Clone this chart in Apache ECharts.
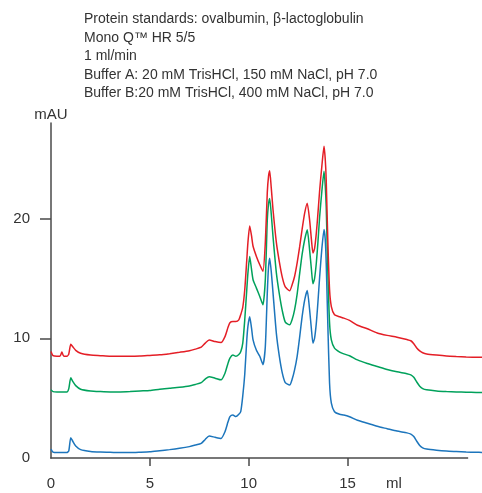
<!DOCTYPE html>
<html lang="en">
<head>
    <meta charset="UTF-8">
    <title>Mono Q HR 5/5</title>
    <script type="text/javascript" src="https://cdn.jsdelivr.net/npm/echarts@6/dist/echarts.min.js"></script>
    <style>
        body { margin: 0; background: #fff; }
    </style>
</head>
<body>
<div id="chart" style="width: 482px;height: 493px"></div>
<script type="text/javascript">
    // elution volume (ml)
    var volume = [0, 0.1, 0.3, 0.45, 0.55, 0.65, 0.8, 0.9, 1.0, 1.1, 1.25, 1.5, 2, 2.5, 3, 3.5, 4, 4.5, 5, 5.5,
        6, 6.5, 7, 7.3, 7.6, 7.8, 8.0, 8.3, 8.6, 8.8, 8.95, 9.05, 9.2, 9.35, 9.5, 9.6, 9.7, 9.8, 9.9, 9.96,
        10.05, 10.14, 10.22, 10.39, 10.56, 10.72, 10.84, 10.94, 11.0, 11.06, 11.14, 11.23, 11.4, 11.55, 11.7, 11.85,
        12.07, 12.2, 12.32, 12.45, 12.58, 12.7, 12.83, 12.96, 13.08, 13.17, 13.25, 13.33, 13.42, 13.5, 13.59, 13.7,
        13.81, 13.87, 13.92, 14.0, 14.09, 14.18, 14.34, 14.6, 14.81, 15.1, 15.5, 16.0, 16.5, 17.0, 17.5, 18.0,
        18.2, 18.35, 18.5, 18.65, 18.8, 19.0, 19.5, 20.0, 20.5, 21.0, 21.5, 21.8];

    var blue = [0.75, 0.5, 0.45, 0.45, 0.45, 0.45, 0.45, 0.6, 1.7, 1.4, 1.0, 0.7, 0.55, 0.5, 0.48, 0.45, 0.45, 0.48, 0.52, 0.61,
        0.7, 0.81, 0.95, 1.08, 1.23, 1.55, 1.84, 1.73, 1.64, 2.2, 3.0, 3.46, 3.6, 3.46, 3.65, 3.9, 5.2, 7.0, 9.8, 11.0,
        11.8, 10.9, 9.87, 9.0, 8.5, 7.8, 9.3, 13.8, 15.9, 16.7, 15.6, 13.8, 10.4, 8.5, 7.1, 6.3,
        6.1, 6.6, 7.36, 8.5, 10.15, 11.8, 13.2, 14.0, 12.4, 10.8, 9.6, 10.0, 11.27, 13.0, 15.17, 17.5,
        19.1, 18.3, 16.3, 11.27, 6.25, 4.58, 3.87, 3.65, 3.6, 3.45, 3.15, 2.9, 2.65, 2.45, 2.25, 2.1,
        2.0, 1.8, 1.4, 1.05, 0.85, 0.75, 0.65, 0.58, 0.54, 0.5, 0.48, 0.47];

    var green = [5.7, 5.55, 5.52, 5.52, 5.52, 5.52, 5.52, 5.8, 6.7, 6.4, 6.05, 5.75, 5.6, 5.55, 5.52, 5.52, 5.55, 5.6, 5.64, 5.75,
        5.83, 5.91, 6.02, 6.15, 6.3, 6.6, 6.8, 6.67, 6.53, 7.09, 7.9, 8.34, 8.6, 8.5, 8.65, 8.9, 9.6, 11.55, 14.0, 15.45,
        16.85, 15.8, 14.9, 14.2, 13.5, 12.8, 14.9, 19.9, 21.2, 21.7, 20.4, 18.5, 15.45, 13.7, 12.3, 11.35,
        11.13, 11.6, 12.38, 13.7, 15.45, 17.0, 18.24, 19.08, 17.4, 15.8, 14.56, 15.0, 16.3, 18.0, 20.2, 22.3,
        23.96, 22.8, 21.0, 15.7, 11.27, 9.87, 9.18, 8.85, 8.7, 8.55, 8.2, 7.9, 7.65, 7.4, 7.2, 7.05,
        6.95, 6.75, 6.35, 6.0, 5.8, 5.7, 5.6, 5.55, 5.52, 5.5, 5.48, 5.47];

    var red = [8.9, 8.55, 8.5, 8.5, 8.85, 8.5, 8.5, 8.7, 9.5, 9.3, 9.0, 8.75, 8.6, 8.55, 8.5, 8.5, 8.5, 8.52, 8.57, 8.62,
        8.72, 8.84, 8.97, 9.1, 9.26, 9.6, 9.87, 9.73, 9.65, 10.15, 10.9, 11.3, 11.4, 11.4, 11.55, 12.0, 12.6, 14.06, 16.5, 18.0,
        19.4, 18.6, 17.7, 16.85, 16.15, 15.6, 18.0, 22.2, 23.5, 24.0, 22.6, 20.75, 18.0, 16.4, 15.1, 14.3,
        13.97, 14.5, 15.17, 16.3, 17.68, 19.1, 20.47, 21.3, 19.9, 18.3, 17.13, 17.5, 18.8, 20.4, 22.4, 24.4,
        26.05, 25.0, 23.26, 18.24, 14.06, 12.66, 11.97, 11.8, 11.69, 11.5, 11.1, 10.8, 10.45, 10.25, 10.1, 9.9,
        9.8, 9.55, 9.2, 8.95, 8.8, 8.7, 8.6, 8.52, 8.48, 8.45, 8.43, 8.43];

    var xTicks = [5, 10, 15];
    var xLabels = [0, 5, 10, 15];
    var yTicks = [10, 20];
    var xAxisEnd = 21.1; // drawn axis line stops short of the traces

    var notes = [
        'Protein standards: ovalbumin, β-lactoglobulin',
        'Mono Q™ HR 5/5',
        '1 ml/min',
        'Buffer A: 20 mM TrisHCl, 150 mM NaCl, pH 7.0',
        'Buffer B:20 mM TrisHCl, 400 mM NaCl, pH 7.0'
    ];

    function pairs(ys) {
        var out = [];
        for (var i = 0; i < volume.length; i++) {
            out.push([volume[i], ys[i]]);
        }
        return out;
    }

    var chart = echarts.init(document.getElementById('chart'));
    var font = 'Liberation Sans, Arial, sans-serif';
    var axisColor = '#4a4a4a';

    function trace(name, ys, color) {
        return {
            name: name,
            type: 'line',
            data: pairs(ys),
            showSymbol: false,
            smooth: 0.2,
            lineStyle: {color: color, width: 1.5},
            itemStyle: {color: color}
        };
    }

    var option = {
        animation: false,
        grid: {left: 51, right: 0, top: 123, bottom: 35},
        graphic: [
            {
                id: 'notes',
                type: 'text',
                left: 84,
                top: 10,
                style: {
                    text: notes.join('\n'),
                    font: '14px ' + font,
                    lineHeight: 18.5,
                    fill: '#333'
                }
            },
            {
                id: 'unit',
                type: 'text',
                left: 386,
                top: 476,
                style: {text: 'ml', font: '15px ' + font, fill: '#333'}
            }
        ],
        xAxis: {
            type: 'value',
            min: 0,
            max: 21.8,
            splitLine: {show: false},
            axisLine: {show: false},
            axisTick: {show: true, customValues: xTicks, length: 8, lineStyle: {color: axisColor, width: 1.5}},
            axisLabel: {customValues: xLabels, margin: 18, fontSize: 15, fontFamily: font, color: '#333'}
        },
        yAxis: {
            type: 'value',
            min: 0,
            max: 28,
            interval: 10,
            name: 'mAU',
            nameLocation: 'end',
            nameGap: 1,
            nameTextStyle: {fontSize: 15, fontFamily: font, color: '#333', align: 'center'},
            splitLine: {show: false},
            axisLine: {show: true, lineStyle: {color: axisColor, width: 1.5}},
            axisTick: {show: true, customValues: yTicks, length: 11, lineStyle: {color: axisColor, width: 1.5}},
            axisLabel: {margin: 21, fontSize: 15, fontFamily: font, color: '#333', showMaxLabel: false}
        },
        series: [
            trace('blue', blue, '#1c75bc'),
            trace('green', green, '#00a15b'),
            trace('red', red, '#e41e26')
        ]
    };

    option && chart.setOption(option);

    // x axis line, from 0 to xAxisEnd, placed through the axis scale
    var p0 = chart.convertToPixel({gridIndex: 0}, [0, 0]);
    var p1 = chart.convertToPixel({gridIndex: 0}, [xAxisEnd, 0]);
    chart.setOption({
        graphic: [{
            id: 'xline',
            type: 'line',
            z: 10,
            shape: {x1: p0[0] - 0.75, y1: p0[1], x2: p1[0], y2: p1[1]},
            style: {stroke: axisColor, lineWidth: 1.5}
        }]
    });
</script>
</body>
</html>
